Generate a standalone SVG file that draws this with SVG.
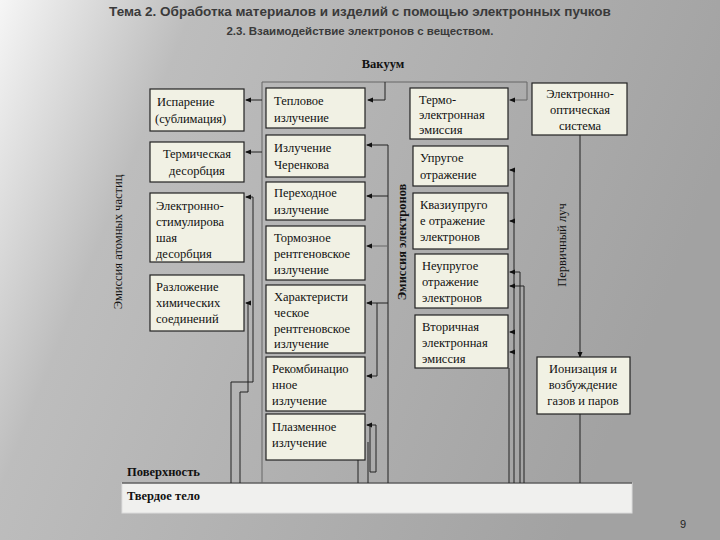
<svg xmlns="http://www.w3.org/2000/svg" width="720" height="540" viewBox="0 0 720 540">
<defs>
<linearGradient id="bg" x1="0" y1="0" x2="1" y2="0.3"><stop offset="0" stop-color="#f6f6f6"/><stop offset="0.25" stop-color="#bdbdbd"/><stop offset="1" stop-color="#a2a2a2"/></linearGradient>
<marker id="ar" markerWidth="6" markerHeight="6" refX="5" refY="3" orient="auto"><path d="M0,0.5 L6,3 L0,5.5z" fill="#111"/></marker>
<style>
.b{fill:#f1f1e4;stroke:#222;stroke-width:1.2}
.t{font-family:"Liberation Serif",serif;font-size:12.5px;fill:#111}
.c{fill:none;stroke:#222;stroke-width:1}
.a{fill:none;stroke:#222;stroke-width:1;marker-end:url(#ar)}
.g{stroke:#666}
.h{font-family:"Liberation Sans",sans-serif;font-weight:bold;fill:#3a3a3a}
</style>
</defs>
<rect width="720" height="540" fill="url(#bg)"/>
<text class="h" x="360" y="16" font-size="13.5" text-anchor="middle">Тема 2. Обработка материалов и изделий с помощью электронных пучков</text>
<text class="h" x="360" y="35" font-size="11.5" text-anchor="middle">2.3. Взаимодействие электронов с веществом.</text>
<text class="t" x="383" y="68" text-anchor="middle" font-weight="bold" font-size="14">Вакуум</text>
<text class="t" x="127" y="476" font-weight="bold" font-size="13">Поверхность</text>
<rect x="122" y="483" width="510" height="30" fill="#f0f0ee" stroke="#ddd"/>
<line x1="122" y1="483" x2="632" y2="483" stroke="#222" stroke-width="1.2"/>
<text class="t" x="127" y="500" font-weight="bold" font-size="13">Твердое тело</text>
<text class="t" x="122" y="242" text-anchor="middle" font-size="11" transform="rotate(-90 122 242)">Эмиссия атомных частиц</text>
<text class="t" x="406" y="242" text-anchor="middle" font-size="11" font-weight="bold" transform="rotate(-90 406 242)">Эмиссия электронов</text>
<text class="t" x="566" y="245" text-anchor="middle" font-size="12" transform="rotate(-90 566 245)">Первичный луч</text>
<text x="680" y="528" font-family="Liberation Sans,sans-serif" font-size="11" fill="#222">9</text>
<g id="connectors">
<path class="c g" d="M262,483 V82 H527 V100"/>
<path class="a g" d="M527,100 H510"/>
<path class="a" d="M385,82 V100 H368"/>
<path class="a" d="M262,100 H246"/>
<path class="a" d="M262,152 H246"/>
<path class="c" d="M388,483 V145"/>
<path class="a" d="M388,145 H367"/>
<path class="a" d="M388,196 H367"/>
<path class="a g" d="M388,246 H367"/>
<path class="a" d="M388,303 H367"/>
<path class="a" d="M377,376 H367"/>
<path class="c" d="M377,303 V376"/>
<path class="a" d="M376,472 V425 H367"/>
<path class="c" d="M376,472 H370 V425"/>
<path class="c" d="M358,483 V460 M368,483 V442"/>
<path class="a" d="M253,382 V197 H246"/>
<path class="c" d="M253,382 H231 V483"/>
<path class="a" d="M248,392 V303 H246"/>
<path class="c" d="M248,392 H240 V483"/>
<path class="c" d="M514,483 V170 M520,483 V272 M524,483 V286 M509,483 V368"/>
<path class="a" d="M514,170 H510"/>
<path class="a" d="M514,221 H510"/>
<path class="a" d="M520,272 H510"/>
<path class="a" d="M524,286 H510"/>
<path class="a" d="M514,332 H510"/>
<path class="a" d="M514,352 H510"/>
<path class="a" d="M580,135 V357"/>
<path class="c" d="M580,414 V483"/>
</g>
<g id="n1"><rect class="b" x="150" y="89" width="94" height="42"/><text class="t" x="157" y="106">Испарение</text><text class="t" x="155" y="123">(сублимация)</text></g>
<g id="n2"><rect class="b" x="150" y="142" width="94" height="40"/><text class="t" x="197" y="158" text-anchor="middle">Термическая</text><text class="t" x="197" y="175" text-anchor="middle">десорбция</text></g>
<g id="n3"><rect class="b" x="150" y="193" width="94" height="69"/><text class="t" x="156" y="210">Электронно-</text><text class="t" x="156" y="226">стимулирова</text><text class="t" x="156" y="242">шая</text><text class="t" x="156" y="258">десорбция</text></g>
<g id="n4"><rect class="b" x="150" y="275" width="94" height="56"/><text class="t" x="156" y="291">Разложение</text><text class="t" x="156" y="307">химических</text><text class="t" x="156" y="323">соединений</text></g>
<g id="n5"><rect class="b" x="266" y="88" width="99" height="40"/><text class="t" x="274" y="105">Тепловое</text><text class="t" x="274" y="122">излучение</text></g>
<g id="n6"><rect class="b" x="266" y="135" width="99" height="42"/><text class="t" x="274" y="152">Излучение</text><text class="t" x="274" y="169">Черенкова</text></g>
<g id="n7"><rect class="b" x="266" y="182" width="99" height="38"/><text class="t" x="274" y="197">Переходное</text><text class="t" x="274" y="214">излучение</text></g>
<g id="n8"><rect class="b" x="266" y="226" width="99" height="54"/><text class="t" x="274" y="242">Тормозное</text><text class="t" x="274" y="258">рентгеновское</text><text class="t" x="274" y="274">излучение</text></g>
<g id="n9"><rect class="b" x="266" y="285" width="99" height="68"/><text class="t" x="274" y="301">Характеристи</text><text class="t" x="274" y="317">ческое</text><text class="t" x="274" y="333">рентгеновское</text><text class="t" x="274" y="348">излучение</text></g>
<g id="n10"><rect class="b" x="266" y="357" width="99" height="54"/><text class="t" x="272" y="373">Рекомбинацио</text><text class="t" x="272" y="389">нное</text><text class="t" x="272" y="405">излучение</text></g>
<g id="n11"><rect class="b" x="266" y="414" width="99" height="46"/><text class="t" x="272" y="431">Плазменное</text><text class="t" x="272" y="447">излучение</text></g>
<g id="n12"><rect class="b" x="410" y="88" width="98" height="51"/><text class="t" x="419" y="104">Термо-</text><text class="t" x="419" y="119">электронная</text><text class="t" x="419" y="134">эмиссия</text></g>
<g id="n13"><rect class="b" x="413" y="146" width="95" height="40"/><text class="t" x="420" y="162">Упругое</text><text class="t" x="420" y="179">отражение</text></g>
<g id="n14"><rect class="b" x="413" y="193" width="95" height="56"/><text class="t" x="420" y="209">Квазиупруго</text><text class="t" x="420" y="225">е отражение</text><text class="t" x="420" y="241">электронов</text></g>
<g id="n15"><rect class="b" x="415" y="254" width="93" height="54"/><text class="t" x="422" y="270">Неупругое</text><text class="t" x="422" y="286">отражение</text><text class="t" x="422" y="302">электронов</text></g>
<g id="n16"><rect class="b" x="415" y="315" width="93" height="53"/><text class="t" x="422" y="331">Вторичная</text><text class="t" x="422" y="347">электронная</text><text class="t" x="422" y="363">эмиссия</text></g>
<g id="n17"><rect class="b" x="532" y="83" width="95" height="52"/><text class="t" x="580" y="98" text-anchor="middle">Электронно-</text><text class="t" x="580" y="114" text-anchor="middle">оптическая</text><text class="t" x="580" y="130" text-anchor="middle">система</text></g>
<g id="n18"><rect class="b" x="537" y="357" width="93" height="57"/><text class="t" x="583" y="373" text-anchor="middle">Ионизация и</text><text class="t" x="583" y="389" text-anchor="middle">возбуждение</text><text class="t" x="583" y="405" text-anchor="middle">газов и паров</text></g>
</svg>
